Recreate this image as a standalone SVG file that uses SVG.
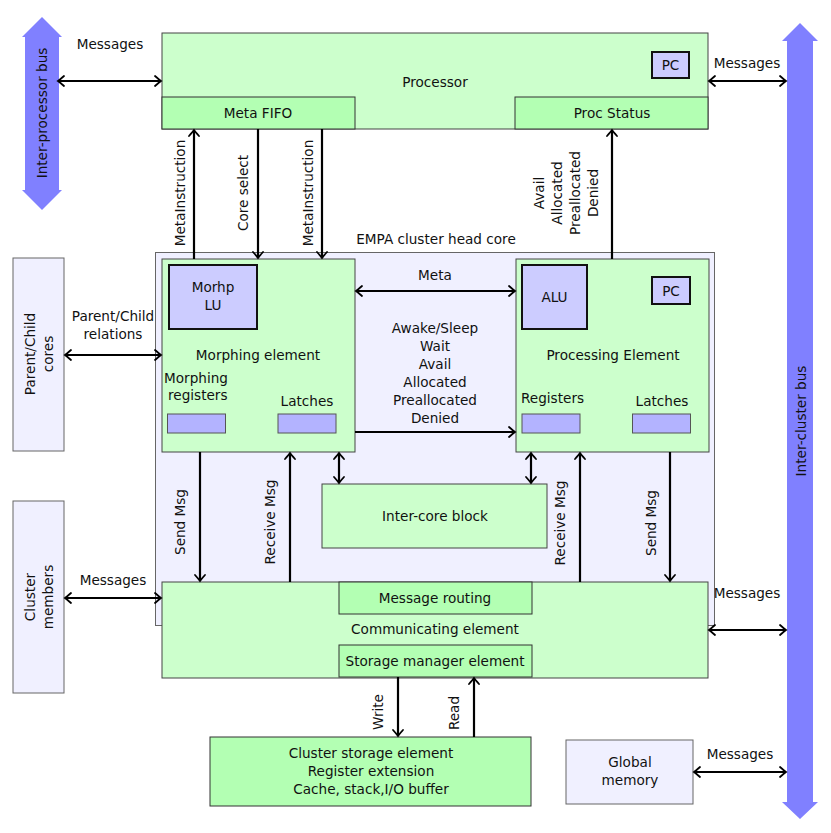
<svg xmlns="http://www.w3.org/2000/svg" width="831" height="833" viewBox="0 0 831 833">
<defs>
<style>
text{font-family:"DejaVu Sans","Liberation Sans",sans-serif;font-size:13.6px;fill:#111;text-anchor:middle}
.lg{fill:#ccffcc;stroke:#444;stroke-width:1}
.dg{fill:#b3ffb3;stroke:#333;stroke-width:1}
.lav{fill:#f0f0ff;stroke:#666;stroke-width:1}
.blu{fill:#ccccff;stroke:#111;stroke-width:2}
.reg{fill:#b3b3ff;stroke:#555;stroke-width:1}
.bus{fill:#8080ff;stroke:none}
.c{fill:none;stroke:#000;stroke-width:2.2}
.e{marker-end:url(#ah)}
.b{marker-start:url(#ah);marker-end:url(#ah)}
</style>
<marker id="ah" viewBox="-8 -7 10 14" refX="0" refY="0" markerWidth="10" markerHeight="14" markerUnits="userSpaceOnUse" orient="auto-start-reverse">
<path d="M-6,-5 Q-1.5,-1 0,0 Q-1.5,1 -6,5" fill="none" stroke="#000" stroke-width="1.8" stroke-linecap="round"/>
</marker>
</defs>

<g id="inter-processor-bus">
<polygon class="bus" points="42,17 62,37 59,37 59,190 62,190 42,210 22,190 25,190 25,37 22,37"/>
<text transform="translate(42,113) rotate(-90)" dy="4.5">Inter-processor bus</text>
</g>

<g id="inter-cluster-bus">
<polygon class="bus" points="800,23 818,41 813,41 813,802 818,802 800,819 782,802 787,802 787,41 782,41"/>
<text transform="translate(801,421) rotate(-90)" dy="4.5">Inter-cluster bus</text>
</g>

<g id="empa-cluster-head-core">
<rect class="lav" x="155.5" y="252.5" width="559" height="373"/>
<text x="436" y="244">EMPA cluster head core</text>
</g>

<g id="processor">
<rect class="lg" x="162" y="33" width="546" height="96"/>
<text x="435" y="87">Processor</text>
</g>
<g id="processor-pc">
<rect class="blu" x="652" y="52" width="37" height="26"/>
<text x="670.5" y="70">PC</text>
</g>
<g id="meta-fifo">
<rect class="dg" x="162" y="97" width="193" height="32"/>
<text x="258" y="118">Meta FIFO</text>
</g>
<g id="proc-status">
<rect class="dg" x="515" y="97" width="193" height="32"/>
<text x="612" y="118">Proc Status</text>
</g>

<g id="morphing-element">
<rect class="lg" x="162" y="259" width="193" height="193"/>
<text x="258" y="360">Morphing element</text>
<text x="164" y="383" style="text-anchor:start">Morphing</text>
<text x="168" y="400" style="text-anchor:start">registers</text>
<text x="307" y="406">Latches</text>
<rect class="reg" x="167.5" y="414" width="58" height="19"/>
<rect class="reg" x="278" y="414" width="58" height="19"/>
</g>
<g id="morph-lu">
<rect class="blu" x="169" y="265" width="88" height="64"/>
<text x="213" y="292">Morhp</text>
<text x="213" y="310">LU</text>
</g>

<g id="processing-element">
<rect class="lg" x="516" y="259" width="193" height="193"/>
<text x="613" y="360">Processing Element</text>
<text x="521" y="403" style="text-anchor:start">Registers</text>
<text x="662" y="406">Latches</text>
<rect class="reg" x="522" y="414" width="58" height="19"/>
<rect class="reg" x="632.5" y="414" width="58" height="19"/>
</g>
<g id="alu">
<rect class="blu" x="522" y="265" width="65" height="64"/>
<text x="554.5" y="302">ALU</text>
</g>
<g id="pe-pc">
<rect class="blu" x="652" y="277" width="38" height="27"/>
<text x="671" y="296">PC</text>
</g>

<g id="inter-core-block">
<rect class="lg" x="322" y="484" width="225" height="64"/>
<text x="435" y="521">Inter-core block</text>
</g>

<g id="communicating-element">
<rect class="lg" x="162" y="582" width="546" height="96"/>
<text x="435" y="634">Communicating element</text>
</g>
<g id="message-routing">
<rect class="dg" x="339" y="582" width="193" height="32"/>
<text x="435" y="603">Message routing</text>
</g>
<g id="storage-manager-element">
<rect class="dg" x="339" y="645" width="193" height="32"/>
<text x="435" y="666">Storage manager element</text>
</g>

<g id="parent-child-cores">
<rect class="lav" x="13" y="258" width="51" height="193"/>
<text transform="translate(38,354) rotate(-90)" dy="-3.5">Parent/Child</text>
<text transform="translate(38,354) rotate(-90)" dy="14.5">cores</text>
</g>
<g id="cluster-members">
<rect class="lav" x="13" y="501" width="51" height="192"/>
<text transform="translate(38,597) rotate(-90)" dy="-3.5">Cluster</text>
<text transform="translate(38,597) rotate(-90)" dy="14.5">members</text>
</g>

<g id="cluster-storage-element">
<rect class="dg" x="210" y="737" width="321" height="69"/>
<text x="371" y="758">Cluster storage element</text>
<text x="371" y="776">Register extension</text>
<text x="371" y="794">Cache, stack,I/O buffer</text>
</g>
<g id="global-memory">
<rect class="lav" x="566" y="740" width="127" height="64"/>
<text x="630" y="767">Global</text>
<text x="630" y="785">memory</text>
</g>

<g id="connectors">
<line class="c b" x1="58" y1="81" x2="161" y2="81"/>
<text x="110" y="49">Messages</text>
<line class="c b" x1="709" y1="81" x2="786" y2="81"/>
<text x="747" y="68">Messages</text>

<line class="c e" x1="194" y1="259" x2="194" y2="130"/>
<text transform="translate(180,193) rotate(-90)" dy="4.5">MetaInstruction</text>
<line class="c e" x1="258" y1="129" x2="258" y2="258"/>
<text transform="translate(243,193) rotate(-90)" dy="4.5">Core select</text>
<line class="c e" x1="322" y1="129" x2="322" y2="258"/>
<text transform="translate(308,193) rotate(-90)" dy="4.5">MetaInstruction</text>

<line class="c e" x1="612" y1="259" x2="612" y2="130"/>
<text transform="translate(539,193) rotate(-90)" dy="4.5">Avail<tspan x="0" dy="18">Allocated</tspan><tspan x="0" dy="18">Preallocated</tspan><tspan x="0" dy="18">Denied</tspan></text>

<line class="c b" x1="356" y1="291" x2="515" y2="291"/>
<text x="435" y="280">Meta</text>
<line class="c e" x1="355" y1="432" x2="515" y2="432"/>
<text x="435" y="333">Awake/Sleep</text>
<text x="435" y="351">Wait</text>
<text x="435" y="369">Avail</text>
<text x="435" y="387">Allocated</text>
<text x="435" y="405">Preallocated</text>
<text x="435" y="423">Denied</text>

<line class="c b" x1="65" y1="355" x2="161" y2="355"/>
<text x="113" y="321">Parent/Child</text>
<text x="113" y="339">relations</text>

<line class="c b" x1="65" y1="598" x2="161" y2="598"/>
<text x="113" y="585">Messages</text>

<line class="c e" x1="200" y1="452" x2="200" y2="581"/>
<text transform="translate(180,522) rotate(-90)" dy="4.5">Send Msg</text>
<line class="c e" x1="290" y1="582" x2="290" y2="453"/>
<text transform="translate(270,522) rotate(-90)" dy="4.5">Receive Msg</text>
<line class="c b" x1="339" y1="453" x2="339" y2="483"/>
<line class="c b" x1="531" y1="453" x2="531" y2="483"/>
<line class="c e" x1="580" y1="582" x2="580" y2="453"/>
<text transform="translate(560,523) rotate(-90)" dy="4.5">Receive Msg</text>
<line class="c e" x1="670" y1="452" x2="670" y2="581"/>
<text transform="translate(651,523) rotate(-90)" dy="4.5">Send Msg</text>

<line class="c b" x1="709" y1="630" x2="786" y2="630"/>
<text x="747" y="598">Messages</text>

<line class="c e" x1="398" y1="677" x2="398" y2="736"/>
<text transform="translate(378,712) rotate(-90)" dy="4.5">Write</text>
<line class="c e" x1="474" y1="737" x2="474" y2="678"/>
<text transform="translate(454,713) rotate(-90)" dy="4.5">Read</text>

<line class="c b" x1="694" y1="772" x2="786" y2="772"/>
<text x="740" y="759">Messages</text>
</g>
</svg>
